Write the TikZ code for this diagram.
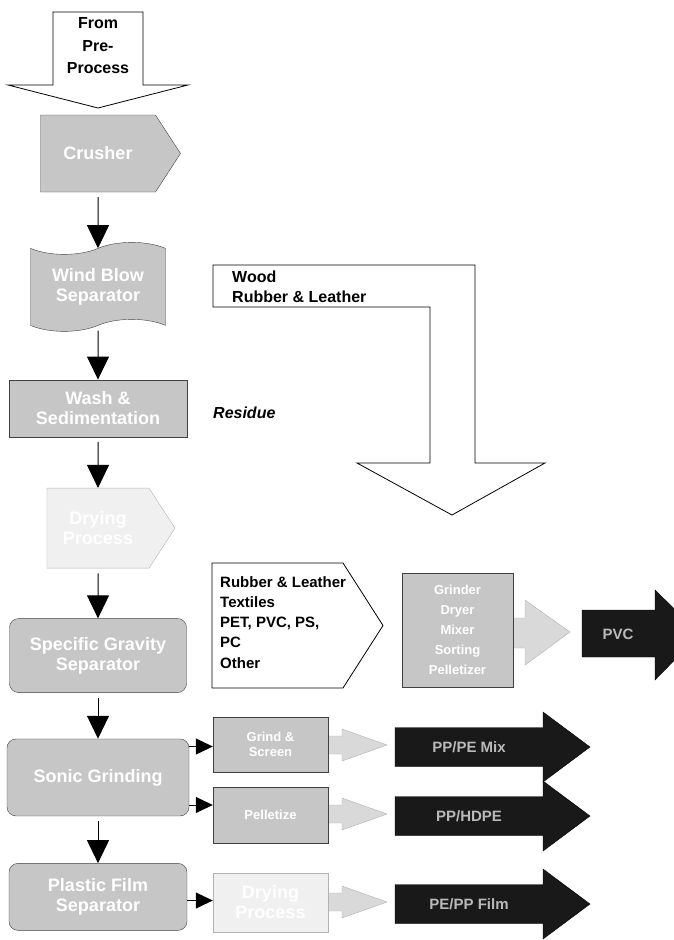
\documentclass[tikz,border=0pt]{standalone}
\usepackage{fontspec}
\setmainfont{Liberation Sans}
\usetikzlibrary{positioning, shapes.symbols, arrows.meta}
\tikzset{
  >={Triangle[width=22pt,length=23pt]}, % big black heads between the stages
  node distance=49pt, % gap between two stages. Change if necessary.
  grain/.style={draw=black!75, fill=gray!45, text=white, align=center, inner sep=1pt,
    font=\bfseries\fontsize{18}{20}\selectfont}, % the stone-look stage boxes
  pale/.style={grain, draw=gray!60, fill=gray!12},
  roundgrain/.style={grain, rounded corners=9pt},
  pointbox/.style={signal, signal to=east, signal pointer angle=114},
  sidebox/.style={grain, minimum width=115pt, font=\bfseries\fontsize{13}{15}\selectfont},
  note/.style={font=\bfseries\fontsize{16}{20}\selectfont, align=left, inner sep=0pt},
  outarrow/.style={draw=black, fill=black!90},
  outtext/.style={text=gray!55, font=\bfseries\fontsize{15}{17}\selectfont},
  hintarrow/.style={draw=gray!60, fill=gray!30},
  link/.style={line width=1pt},
  sidelink/.style={link, -{Triangle[width=16pt,length=17pt]}},
}
\begin{document}
\begin{tikzpicture}[x=1pt, y=1pt]
  \useasboundingbox (0,0) rectangle (673,-940);

  % feed from the pre-process
  \draw[fill=white, line width=0.8pt] (53,-12) -- (143,-12) -- (143,-85) -- (188,-85) -- (98,-108) -- (8,-85) -- (53,-85) -- cycle;
  \node[note, align=center, font=\bfseries\fontsize{16}{22.5}\selectfont] (pre) at (98,-46) {From\\Pre-\\Process};

  % main line of stages
  \node[grain, pointbox, minimum width=140pt, minimum height=77pt] (crush) at (98,-153.5) {Crusher};
  \node[grain, tape, tape bend height=12pt, minimum width=135pt, minimum height=89pt, below=56pt of crush] (wind) {Wind Blow\\Separator};
  \node[grain, minimum width=178pt, minimum height=57pt, below=54pt of wind] (wash) {Wash \&\\Sedimentation};
  \node[pale, pointbox, minimum width=128pt, minimum height=80pt, below=51pt of wash] (dry) {Drying\\Process};
  \node[roundgrain, minimum width=177pt, minimum height=74pt, below=50pt of dry] (grav) {Specific Gravity\\Separator};
  \node[roundgrain, minimum width=182pt, minimum height=77pt, below=46pt of grav] (sonic) {Sonic Grinding};
  \node[roundgrain, minimum width=178pt, minimum height=67pt, below=47pt of sonic] (film) {Plastic Film\\Separator};

  \foreach \a/\b in {crush/wind, wind/wash, wash/dry, dry/grav, grav/sonic, sonic/film}
    \draw[link, ->, shorten <=5pt] (\a) -- (\b);

  % wood and rubber leave the line
  \draw[fill=white, line width=0.8pt] (213,-265) -- (475,-265) -- (475,-463) -- (545,-463) -- (452,-515) -- (357,-463) -- (430,-463) -- (430,-307) -- (213,-307) -- cycle;
  \node[note, anchor=north west] (wood) at (232,-271) {Wood\\Rubber \& Leather};
  \node[note, anchor=west, font=\bfseries\itshape\fontsize{16}{19}\selectfont] (res) at (213,-413) {Residue};

  % heavy fraction
  \draw[fill=white, line width=0.8pt] (212,-563) -- (343,-563) -- (383,-625.5) -- (343,-688) -- (212,-688) -- cycle;
  \node[note, anchor=north west, font=\bfseries\fontsize{15}{20.25}\selectfont] (heavy) at (220,-576) {Rubber \& Leather\\Textiles\\PET, PVC, PS,\\PC\\Other};

  % sorting line and its product
  \draw[hintarrow] (495,-618) -- (525,-618) -- (525,-600) -- (570,-632) -- (525,-665) -- (525,-648) -- (495,-648) -- cycle;
  \node[grain, minimum width=111pt, minimum height=114pt, font=\bfseries\fontsize{13}{20}\selectfont] (sort) at (457.5,-630) {Grinder\\Dryer\\Mixer\\Sorting\\Pelletizer};
  \draw[outarrow] (582,-610) -- (655,-610) -- (655,-590) -- (700,-634) -- (655,-680) -- (655,-657) -- (582,-657) -- cycle;
  \node[outtext] (pvc) at (618,-634) {PVC};

  % outputs of grinding and film separation
  \foreach \y in {745, 814, 902}
    \draw[hintarrow] (310,-\y+9) -- (342,-\y+9) -- (342,-\y+16) -- (387,-\y) -- (342,-\y-16) -- (342,-\y-9) -- (310,-\y-9) -- cycle;
  \node[sidebox, minimum height=55pt] (grind) at (270.5,-744.5) {Grind \&\\Screen};
  \node[sidebox, minimum height=56pt] (pellet) at (270.5,-815) {Pelletize};
  \node[sidebox, pale, minimum height=59pt] (dryfilm) at (270.5,-902.5) {Drying\\Process};

  \coordinate (in1) at ([yshift=-2pt]grind.west);
  \coordinate (in2) at ([yshift=10pt]pellet.west);
  \coordinate (in3) at ([yshift=2pt]dryfilm.west);
  \draw[sidelink] (sonic.east |- in1) -- (in1);
  \draw[sidelink] (sonic.east |- in2) -- (in2);
  \draw[sidelink] (film.east |- in3) -- (in3);

  \foreach \y in {747, 816, 904}
    \draw[outarrow] (395,-\y+19.5) -- (543,-\y+19.5) -- (543,-\y+35) -- (590,-\y) -- (543,-\y-35) -- (543,-\y-19.5) -- (395,-\y-19.5) -- cycle;
  \node[outtext] (ppmix) at (469,-747) {PP/PE Mix};
  \node[outtext] (hdpe) at (469,-816) {PP/HDPE};
  \node[outtext] (pefilm) at (469,-904) {PE/PP Film};
\end{tikzpicture}
\end{document}
